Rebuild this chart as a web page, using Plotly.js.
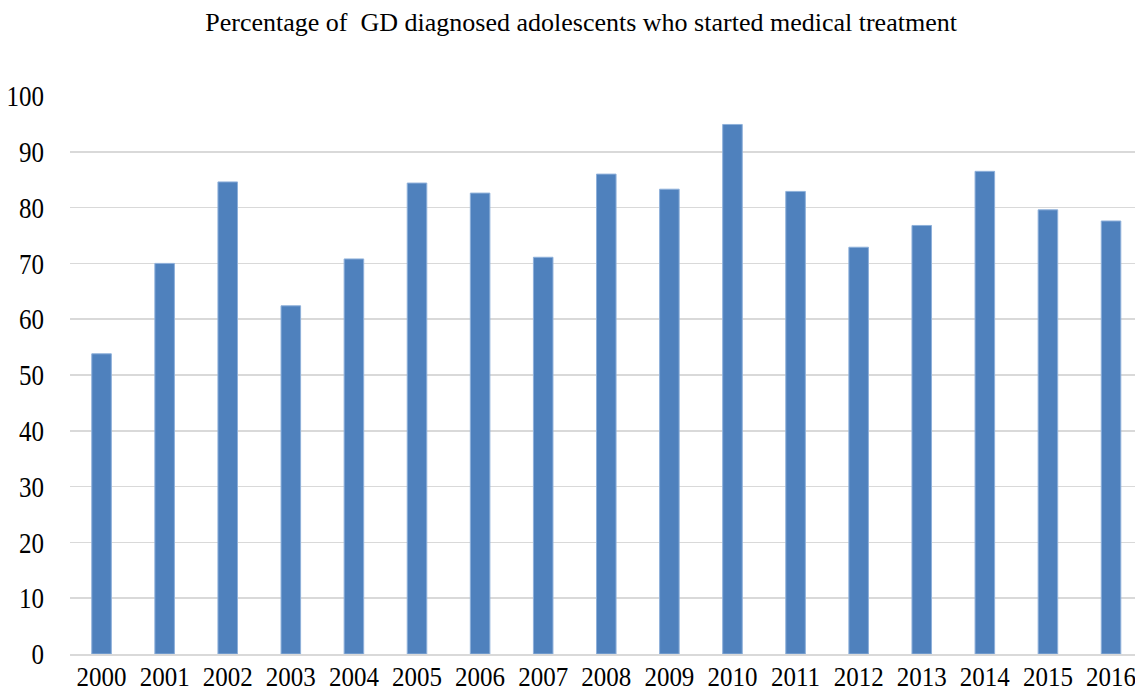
<!DOCTYPE html>
<html>
<head>
<meta charset="utf-8">
<script src="https://cdn.plot.ly/plotly-3.0.1.min.js"></script>
<style>
  html, body { margin: 0; padding: 0; background: #fff; }
  #chart { width: 1135px; height: 694px; }
</style>
</head>
<body>
<div id="chart"></div>
<script>
// Share of adolescents diagnosed with GD who went on to start medical treatment, by year
const years = ['2000', '2001', '2002', '2003', '2004', '2005', '2006', '2007', '2008',
               '2009', '2010', '2011', '2012', '2013', '2014', '2015', '2016'];
const percentTreated = [53.8, 70.0, 84.6, 62.4, 70.8, 84.4, 82.6, 71.1, 86.0,
                        83.3, 94.9, 82.9, 72.9, 76.8, 86.5, 79.6, 77.6];
const yTicks = [0, 10, 20, 30, 40, 50, 60, 70, 80, 90, 100];

const serif = '"Liberation Serif", "Times New Roman", Times, serif';

const trace = {
  type: 'bar',
  x: years,
  y: percentTreated,
  width: 0.31,
  marker: { color: '#4f81bd', line: { color: '#8eb0da', width: 1 } },
  hoverinfo: 'x+y'
};

const layout = {
  width: 1135,
  height: 694,
  margin: { l: 70, r: 0, t: 96, b: 40 },
  paper_bgcolor: '#ffffff',
  plot_bgcolor: '#ffffff',
  showlegend: false,
  font: { family: serif, size: 25, color: '#000000' },
  title: {
    text: 'Percentage of&nbsp; GD diagnosed adolescents who started medical treatment',
    font: { family: serif, size: 26, color: '#000000' },
    x: 0.512, xanchor: 'center', xref: 'container',
    y: 1 - 22 / 694, yanchor: 'middle', yref: 'container'
  },
  xaxis: {
    type: 'category',
    range: [-0.5, 16.38],
    showgrid: false,
    showline: true,
    linecolor: '#d9d9d9',
    linewidth: 1.5,
    ticks: '',
    tickfont: { family: serif, size: 25, color: '#000000' },
    zeroline: false
  },
  yaxis: {
    range: [0, 100],
    tickvals: yTicks,
    ticktext: yTicks.map(String),
    showgrid: true,
    gridcolor: '#d9d9d9',
    gridwidth: 1.5,
    showline: false,
    zeroline: false,
    ticks: 'outside',
    ticklen: 20,
    tickcolor: 'rgba(0,0,0,0)',
    tickfont: { family: serif, size: 25, color: '#000000' }
  }
};

// Tick labels are set in a tall, narrow serif: stretch each label vertically about its own centre.
function stretchLabels(gd, selector, sy) {
  gd.querySelectorAll(selector).forEach(function (t) {
    const bb = t.getBBox();
    const cy = bb.y + bb.height / 2;
    const base = t.getAttribute('transform') || '';
    t.setAttribute('transform',
      base + ' translate(0,' + cy + ') scale(1,' + sy + ') translate(0,' + (-cy) + ')');
  });
}

Plotly.newPlot('chart', [trace], layout, { displayModeBar: false, staticPlot: true })
  .then(function (gd) {
    stretchLabels(gd, '.xtick text', 1.08);
    stretchLabels(gd, '.ytick text', 1.18);
  });
</script>
</body>
</html>
